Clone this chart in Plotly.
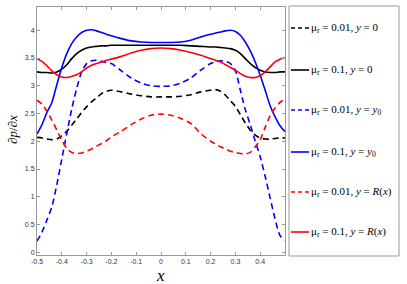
import plotly.graph_objects as go

x = [-0.50, -0.48, -0.46, -0.44, -0.42, -0.40, -0.38, -0.36, -0.34, -0.32, -0.30,
     -0.28, -0.26, -0.24, -0.22, -0.20, -0.16, -0.12, -0.08, -0.04, 0.00,
     0.04, 0.08, 0.12, 0.16, 0.20, 0.22, 0.24, 0.26, 0.28, 0.30,
     0.32, 0.34, 0.36, 0.38, 0.40, 0.42, 0.44, 0.46, 0.48, 0.50]

# mu_r = 0.01, y = 0
black_dash = [2.07, 2.06, 2.04, 2.03, 2.04, 2.10, 2.18, 2.29, 2.40, 2.52, 2.62,
              2.71, 2.78, 2.86, 2.90, 2.92, 2.89, 2.85, 2.82, 2.80, 2.80,
              2.80, 2.81, 2.84, 2.89, 2.92, 2.93, 2.90, 2.83, 2.73, 2.63,
              2.48, 2.33, 2.20, 2.11, 2.06, 2.04, 2.04, 2.05, 2.06, 2.06]
# mu_r = 0.1, y = 0
black_solid = [3.25, 3.24, 3.24, 3.23, 3.25, 3.30, 3.38, 3.49, 3.58, 3.64, 3.68,
               3.70, 3.71, 3.72, 3.72, 3.73, 3.73, 3.73, 3.73, 3.73, 3.73,
               3.73, 3.73, 3.72, 3.71, 3.70, 3.70, 3.69, 3.68, 3.67, 3.64,
               3.58, 3.49, 3.40, 3.33, 3.28, 3.25, 3.24, 3.24, 3.25, 3.25]
# mu_r = 0.01, y = y0
blue_dash = [0.20, 0.36, 0.58, 0.82, 1.22, 1.68, 2.14, 2.58, 2.95, 3.25, 3.40,
             3.45, 3.46, 3.44, 3.42, 3.40, 3.27, 3.14, 3.05, 3.00, 2.99,
             3.00, 3.05, 3.14, 3.28, 3.40, 3.43, 3.45, 3.44, 3.40, 3.27,
             2.92, 2.57, 2.30, 2.00, 1.72, 1.37, 0.98, 0.60, 0.30, 0.22]
# mu_r = 0.1, y = y0
blue_solid = [2.13, 2.30, 2.52, 2.70, 3.02, 3.33, 3.58, 3.76, 3.88, 3.96, 4.00,
              4.01, 3.99, 3.96, 3.93, 3.90, 3.85, 3.81, 3.79, 3.78, 3.78,
              3.78, 3.79, 3.82, 3.88, 3.93, 3.95, 3.97, 3.99, 4.00, 3.98,
              3.91, 3.79, 3.63, 3.43, 3.19, 2.92, 2.64, 2.44, 2.28, 2.17]
# mu_r = 0.01, y = R(x)
red_dash = [2.74, 2.67, 2.54, 2.38, 2.20, 2.02, 1.87, 1.80, 1.78, 1.79, 1.82,
            1.86, 1.91, 1.96, 2.01, 2.08, 2.18, 2.30, 2.40, 2.47, 2.49,
            2.47, 2.41, 2.32, 2.14, 2.00, 1.95, 1.90, 1.86, 1.82, 1.80,
            1.78, 1.77, 1.80, 1.90, 2.03, 2.25, 2.46, 2.60, 2.70, 2.76]
# mu_r = 0.1, y = R(x)
red_solid = [3.49, 3.44, 3.36, 3.27, 3.20, 3.16, 3.15, 3.17, 3.20, 3.25, 3.32,
             3.37, 3.40, 3.43, 3.46, 3.48, 3.53, 3.59, 3.64, 3.67, 3.68,
             3.67, 3.64, 3.60, 3.55, 3.49, 3.46, 3.43, 3.38, 3.33, 3.28,
             3.22, 3.17, 3.15, 3.15, 3.18, 3.25, 3.34, 3.43, 3.48, 3.50]

series_labels = [
    "μ<sub>r</sub> = 0.01, <i>y</i> = 0",
    "μ<sub>r</sub> = 0.1, <i>y</i> = 0",
    "μ<sub>r</sub> = 0.01, <i>y</i> = <i>y</i><sub>0</sub>",
    "μ<sub>r</sub> = 0.1, <i>y</i> = <i>y</i><sub>0</sub>",
    "μ<sub>r</sub> = 0.01, <i>y</i> = <i>R</i>(<i>x</i>)",
    "μ<sub>r</sub> = 0.1, <i>y</i> = <i>R</i>(<i>x</i>)",
]
series_values = [black_dash, black_solid, blue_dash, blue_solid, red_dash, red_solid]
series_colors = ["#000000", "#000000", "#0000ff", "#0000ff", "#ff0000", "#ff0000"]
series_dash = ["6px,4px", "solid", "6px,4px", "solid", "6px,4px", "solid"]

x_ticks = [-0.5, -0.4, -0.3, -0.2, -0.1, 0, 0.1, 0.2, 0.3, 0.4]
x_tick_text = ["-0.5", "-0.4", "-0.3", "-0.2", "-0.1", "0", "0.1", "0.2", "0.3", "0.4"]
y_ticks = [0, 0.5, 1, 1.5, 2, 2.5, 3, 3.5, 4]
y_tick_text = ["0", "0.5", "1", "1.5", "2", "2.5", "3", "3.5", "4"]

fig = go.Figure()
for vals, col, dsh, lab in zip(series_values, series_colors, series_dash, series_labels):
    fig.add_trace(go.Scatter(x=x, y=vals, mode="lines", name=lab,
                             line=dict(color=col, width=1.6, dash=dsh, shape="spline", smoothing=0.8),
                             showlegend=False))

# plot area in pixels: x 37..285, y 7..255
L, R, T, B = 37, 285, 7, 255
W, H = R - L, B - T

def px2x(px):
    return (px - L) / W

def px2y(py):
    return (B - py) / H

shapes = []
annotations = []
# manual legend box
shapes.append(dict(type="rect", xref="paper", yref="paper",
                   x0=px2x(289), x1=px2x(399), y0=px2y(256), y1=px2y(6),
                   line=dict(color="#999999", width=1), fillcolor="white", layer="below"))
legend_y = [28, 70, 110, 152, 192, 232]
for ly, col, dsh, lab in zip(legend_y, series_colors, series_dash, series_labels):
    shapes.append(dict(type="line", xref="paper", yref="paper",
                       x0=px2x(291), x1=px2x(309), y0=px2y(ly), y1=px2y(ly),
                       line=dict(color=col, width=1.6, dash="4px,3px" if dsh != "solid" else "solid")))
    annotations.append(dict(xref="paper", yref="paper", x=px2x(309), y=px2y(ly),
                            xanchor="left", yanchor="middle", showarrow=False, text=lab,
                            font=dict(family="Liberation Serif", size=11, color="#000000")))

# axis labels
annotations.append(dict(xref="paper", yref="paper", x=px2x(160), y=px2y(275),
                        xanchor="center", yanchor="middle", showarrow=False,
                        text="<i>x</i>", font=dict(family="Liberation Serif", size=17, color="#000")))
annotations.append(dict(xref="paper", yref="paper", x=px2x(12), y=px2y(130),
                        xanchor="center", yanchor="middle", showarrow=False, textangle=-90,
                        text="∂<i>p</i>/∂<i>x</i>", font=dict(family="Liberation Serif", size=13, color="#000")))

axis_common = dict(showgrid=False, zeroline=False, showline=True, linecolor="#9a9a9a", linewidth=1,
                   mirror="ticks", ticks="inside", ticklen=3, tickcolor="#9a9a9a", tickwidth=1,
                   tickfont=dict(family="Liberation Sans", size=7, color="#333333"))

fig.update_layout(
    width=407, height=284,
    margin=dict(l=L, r=407 - R, t=T, b=284 - B),
    paper_bgcolor="white", plot_bgcolor="white",
    xaxis=dict(range=[-0.5, 0.5], tickvals=x_ticks, ticktext=x_tick_text, **axis_common),
    yaxis=dict(range=[-0.05, 4.42], tickvals=y_ticks, ticktext=y_tick_text, **axis_common),
    shapes=shapes, annotations=annotations,
    showlegend=False,
)

fig.write_html("out.html", config={"displayModeBar": False},
               post_script="document.body.style.margin='0px';document.body.style.overflow='hidden';")
